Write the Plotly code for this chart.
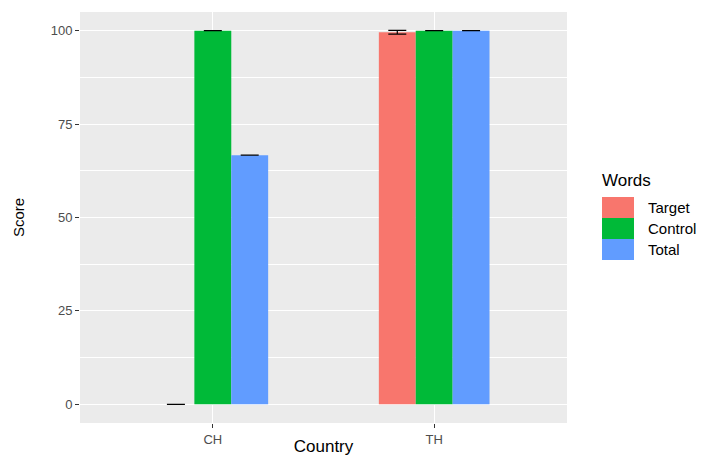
import plotly.graph_objects as go

# Mean scores and error half-widths by country and word type
countries = ["CH", "TH"]
words = ["Target", "Control", "Total"]
target_scores = [0.0, 99.6]
control_scores = [100.0, 100.0]
total_scores = [66.67, 100.0]
target_err = [0.0, 0.5]
control_err = [0.0, 0.0]
total_err = [0.0, 0.0]
y_ticks = [0, 25, 50, 75, 100]

colors = ["#F8766D", "#00BA38", "#619CFF"]
series = [target_scores, control_scores, total_scores]
errors = [target_err, control_err, total_err]

fig = go.Figure()
for name, vals, errs, col in zip(words, series, errors, colors):
    fig.add_trace(go.Bar(
        x=countries, y=vals, name=name, marker_color=col,
        marker_line_width=0,
        error_y=dict(type="data", array=errs, visible=True,
                     color="black", thickness=1.2, width=9),
        showlegend=False,
    ))

L, R, T, B = 80, 140, 12, 33
W, H = 707, 456
fig.update_layout(
    width=W, height=H,
    margin=dict(l=L, r=R, t=T, b=B),
    paper_bgcolor="white",
    plot_bgcolor="#EBEBEB",
    barmode="group", bargap=0.5, bargroupgap=0,
    font=dict(family="Liberation Sans, Arial, sans-serif", color="black"),
)
fig.update_xaxes(
    range=[-0.6, 1.6], automargin=False,
    showgrid=True, gridcolor="white", gridwidth=1.2,
    ticks="outside", ticklen=4, tickcolor="#333333",
    tickfont=dict(size=13, color="#4D4D4D"),
    title=dict(text="Country", font=dict(size=17), standoff=0),
    zeroline=False, showline=False,
)
fig.update_yaxes(
    range=[-5, 105], automargin=False,
    tickvals=y_ticks,
    showgrid=True, gridcolor="white", gridwidth=1.2,
    minor=dict(dtick=12.5, tick0=0, showgrid=True, gridcolor="white", gridwidth=0.6),
    ticks="outside", ticklen=4, tickcolor="#333333",
    tickfont=dict(size=13, color="#4D4D4D"),
    title=dict(text="Score", font=dict(size=15), standoff=22),
    zeroline=False, showline=False,
)

# Legend drawn as swatches with labels to the right of the panel
pw = W - L - R
ph = H - T - B

def px_x(x):
    return (x - L) / pw

def px_y(y):
    return (H - B - y) / ph

sw_x0, sw_x1 = px_x(602), px_x(634)
sw_top, row = 197, 21
fig.add_annotation(x=px_x(600), y=px_y(192), xref="paper", yref="paper",
                   text="Words", showarrow=False, xanchor="left", yanchor="bottom",
                   font=dict(size=17, color="black"))
for i, (name, col) in enumerate(zip(words, colors)):
    y_top = sw_top + i * row
    fig.add_shape(type="rect", xref="paper", yref="paper",
                  x0=sw_x0, x1=sw_x1, y0=px_y(y_top + row), y1=px_y(y_top),
                  fillcolor=col, line_width=0)
    fig.add_annotation(x=px_x(646), y=px_y(y_top + row / 2), xref="paper", yref="paper",
                       text=name, showarrow=False, xanchor="left", yanchor="middle",
                       font=dict(size=15, color="black"))

fig.write_html("out.html")
